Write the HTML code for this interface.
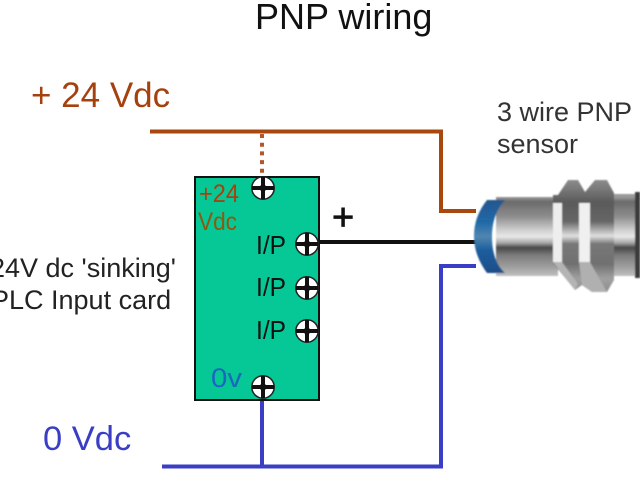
<!DOCTYPE html>
<html>
<head>
<meta charset="utf-8">
<style>
html,body{margin:0;padding:0;background:#fff;}
svg{display:block;}
text{font-family:"Liberation Sans",sans-serif;}
</style>
</head>
<body>
<svg width="640" height="480" viewBox="0 0 640 480" xmlns="http://www.w3.org/2000/svg">
<defs>
<linearGradient id="m" gradientUnits="userSpaceOnUse" x1="0" y1="197" x2="0" y2="276">
<stop offset="0" stop-color="#9a9a9a"/>
<stop offset=".06" stop-color="#6a6a6a"/>
<stop offset=".25" stop-color="#8e8e8e"/>
<stop offset=".42" stop-color="#cfcfcf"/>
<stop offset=".5" stop-color="#e8e8e8"/>
<stop offset=".58" stop-color="#a8a8a8"/>
<stop offset=".64" stop-color="#484848"/>
<stop offset=".74" stop-color="#7c7c7c"/>
<stop offset=".9" stop-color="#a2a2a2"/>
<stop offset="1" stop-color="#c0c0c0"/>
</linearGradient>
<linearGradient id="n" gradientUnits="userSpaceOnUse" x1="0" y1="180" x2="0" y2="292">
<stop offset="0" stop-color="#8c8c8c"/>
<stop offset=".2" stop-color="#5a5a5a"/>
<stop offset=".37" stop-color="#666"/>
<stop offset=".5" stop-color="#e0e0e0"/>
<stop offset=".57" stop-color="#777"/>
<stop offset=".75" stop-color="#707070"/>
<stop offset=".88" stop-color="#a0a0a0"/>
<stop offset="1" stop-color="#8c8c8c"/>
</linearGradient>
<linearGradient id="b" x1="0" y1="0" x2="0" y2="1">
<stop offset="0" stop-color="#24568f"/>
<stop offset=".3" stop-color="#1f68a8"/>
<stop offset=".5" stop-color="#4f86b0"/>
<stop offset=".7" stop-color="#1a5c9c"/>
<stop offset="1" stop-color="#1b4e88"/>
</linearGradient>
<filter id="s" x="-5%" y="-5%" width="110%" height="110%"><feGaussianBlur stdDeviation="0.7"/></filter>
<g id="screw">
<circle r="12" fill="#222"/>
<circle r="10.5" fill="#fff"/>
<path d="M-11,0H11M0,-11V11" stroke="#111" stroke-width="4"/>
<circle r="3.5" fill="#111"/>
</g>
</defs>

<text x="255" y="29" font-size="36" fill="#111">PNP wiring</text>
<text x="31" y="107" font-size="35" fill="#a5410f">+ 24 Vdc</text>
<text x="497" y="121" font-size="27" fill="#333">3 wire PNP</text>
<text x="497" y="153" font-size="27" fill="#333">sensor</text>
<text x="-10" y="277" font-size="27" fill="#222">24V dc 'sinking'</text>
<text x="-9" y="309" font-size="27" fill="#222">PLC Input card</text>
<text x="43" y="450" font-size="34.5" fill="#3a3ec4">0 Vdc</text>

<path d="M150,131.5H441V211H476" fill="none" stroke="#a8480f" stroke-width="4"/>
<path d="M262,134V176" fill="none" stroke="#b5562b" stroke-width="4" stroke-dasharray="4 4.7"/>
<path d="M162,466.5H441V266H476" fill="none" stroke="#3a3ec4" stroke-width="4"/>
<path d="M262,400V466" fill="none" stroke="#3a3ec4" stroke-width="4"/>
<path d="M318,242H476" fill="none" stroke="#111" stroke-width="4"/>

<rect x="195" y="177" width="124" height="223" fill="#05c896" stroke="#111" stroke-width="2"/>
<text x="199" y="202" font-size="25" fill="#a8420f" textLength="40" lengthAdjust="spacingAndGlyphs">+24</text>
<text x="198" y="230" font-size="25" fill="#8a5a10" textLength="39" lengthAdjust="spacingAndGlyphs">Vdc</text>
<text x="211" y="387" font-size="27" fill="#1a66c0" textLength="31" lengthAdjust="spacingAndGlyphs">0v</text>
<text x="256" y="254" font-size="26" fill="#111" textLength="30" lengthAdjust="spacingAndGlyphs">I/P</text>
<text x="256" y="296" font-size="26" fill="#111" textLength="30" lengthAdjust="spacingAndGlyphs">I/P</text>
<text x="256" y="339" font-size="26" fill="#111" textLength="30" lengthAdjust="spacingAndGlyphs">I/P</text>
<text x="332" y="230" font-size="38" fill="#111" stroke="#111" stroke-width="0.8">+</text>

<use href="#screw" x="263" y="188"/>
<use href="#screw" x="307" y="244"/>
<use href="#screw" x="307" y="288"/>
<use href="#screw" x="307" y="331"/>
<use href="#screw" x="263" y="387"/>

<!-- sensor -->
<g filter="url(#s)">
<path d="M496,197H558V276H496Z" fill="url(#m)"/>
<path d="M610,194H636V276H610Z" fill="url(#m)"/>
<rect x="635" y="192" width="5" height="86" fill="#3a3a3a"/>
<path d="M553,263L553,195L558,195L568,180H578L585,192L595,180H607L614,193V280L607,292H592L582,285L575,290Z" fill="url(#n)"/>
<path d="M553,203H562V262H553Z" fill="#eee"/>
<path d="M579,203H590V262H579Z" fill="#f0f0f0"/>
<path d="M553,262H562L578,284L575,290Z" fill="#b4b4b4"/>
<path d="M579,262H590L607,292H592L582,285Z" fill="#b0b0b0"/>
<path d="M487,200H505C496,210 492,222 492,237C492,252 496,265 505,273H487C479,262 474,250 474,236C474,222 479,210 487,200Z" fill="url(#b)"/>
</g>
</svg>
</body>
</html>
